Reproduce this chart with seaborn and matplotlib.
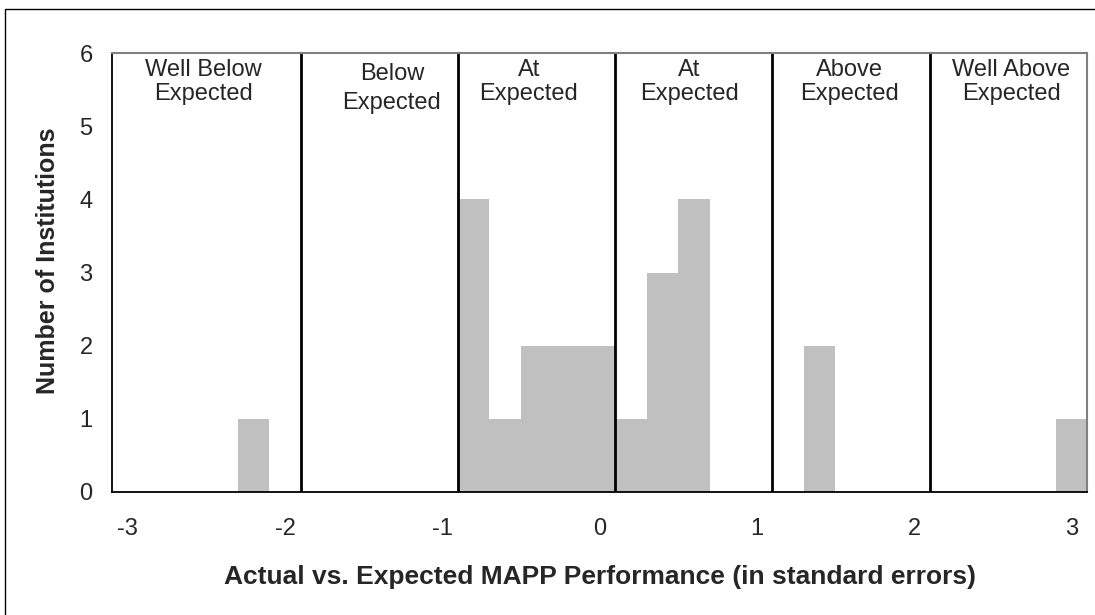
import numpy as np
import pandas as pd
import seaborn as sns
import matplotlib.pyplot as plt
from matplotlib.patches import Rectangle

# bins of width 0.2 SE, labelled by their centre
bin_centers = [-2.2, -0.8, -0.6, -0.4, -0.2, 0.0, 0.2, 0.4, 0.6, 1.4, 3.0]
counts = [1, 4, 1, 2, 2, 2, 1, 3, 4, 2, 1]

x_ticklabels = [-3, -2, -1, 0, 1, 2, 3]
dividers = [-1.9, -0.9, 0.1, 1.1, 2.1]
region_labels = ['Well Below\nExpected', 'Below\nExpected', 'At\nExpected',
                 'At\nExpected', 'Above\nExpected', 'Well Above\nExpected']
region_x = [-2.52, -1.32, -0.45, 0.57, 1.59, 2.62]

df = pd.DataFrame({'se': bin_centers, 'n': counts})

sns.set_style('white')
plt.rcParams['font.family'] = ['Liberation Sans', 'DejaVu Sans']

fig = plt.figure(figsize=(10.95, 6.15), dpi=100)
ax = fig.add_axes([0.1023, 0.2, 0.8904, 0.7138])

sns.histplot(data=df, x='se', weights='n', binwidth=0.2, binrange=(-3.1, 3.1),
             color='#C0C0C0', alpha=1, edgecolor='none', ax=ax)

for d in dividers:
    ax.axvline(d, color='black', lw=2)

for i, (lab, xp) in enumerate(zip(region_labels, region_x)):
    if i == 1:
        ax.text(xp, 5.87, lab, ha='center', va='top', fontsize=17, linespacing=1.45)
    else:
        ax.text(xp, 5.92, lab, ha='center', va='top', fontsize=17, linespacing=1.13)

edges = np.arange(-3.1, 3.11, 0.2)
ax.set_xlim(-3.1, 3.1)
ax.set_ylim(0, 6)
ax.set_xticks(edges)
ax.set_xticklabels([])
ax.set_xticks(x_ticklabels, minor=True)
ax.set_xticklabels([str(v) for v in x_ticklabels], minor=True)
ax.set_yticks(range(0, 7))
ax.tick_params(axis='x', which='major', direction='in', length=8, width=1, color='black')
ax.tick_params(axis='x', which='minor', length=0, pad=19, labelsize=17)
ax.tick_params(axis='y', direction='in', length=8, width=1, color='black', pad=14, labelsize=17)

for s in ['left', 'bottom']:
    ax.spines[s].set_color('black')
    ax.spines[s].set_linewidth(1.3)
for s in ['top', 'right']:
    ax.spines[s].set_color('#808080')
    ax.spines[s].set_linewidth(1.5)

ax.set_xlabel('Actual vs. Expected MAPP Performance (in standard errors)',
              fontsize=19, fontweight='bold', labelpad=18)
ax.set_ylabel('Number of Institutions', fontsize=18, fontweight='bold', labelpad=14)
ax.yaxis.label.set_y(0.527)

fig.patches.append(Rectangle((5 / 1095, -0.1), 1.2, 1 - 9 / 615 + 0.1,
                             transform=fig.transFigure, fill=False,
                             edgecolor='black', lw=1))

fig.savefig('out.png', dpi=100)
